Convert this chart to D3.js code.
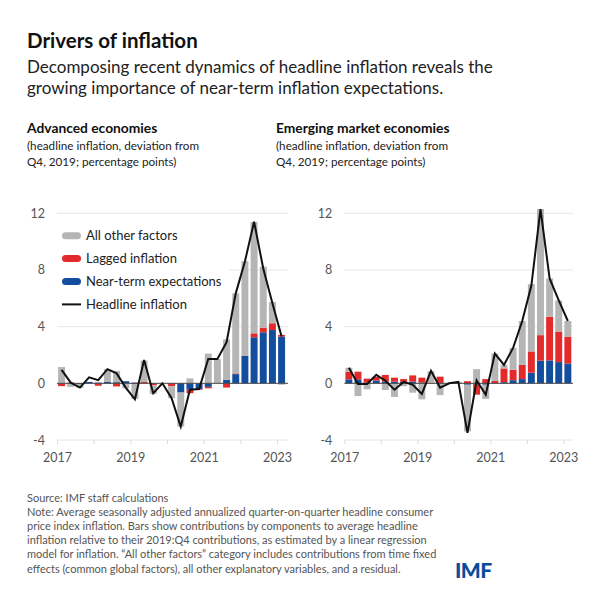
<!DOCTYPE html>
<html>
<head>
<meta charset="utf-8">
<script src="https://cdn.jsdelivr.net/npm/d3@7"></script>
<style>
  body { margin: 0; background: #fff; }
  text { font-family: Lato, "Open Sans", sans-serif; }
</style>
</head>
<body>
<div id="chart"></div>
<script>
// quarters 2017Q1 .. 2023Q1
var quarters = ['2017Q1','2017Q2','2017Q3','2017Q4','2018Q1','2018Q2','2018Q3','2018Q4',
  '2019Q1','2019Q2','2019Q3','2019Q4','2020Q1','2020Q2','2020Q3','2020Q4',
  '2021Q1','2021Q2','2021Q3','2021Q4','2022Q1','2022Q2','2022Q3','2022Q4','2023Q1'];

// Advanced economies
var aeExpect = [0, 0, -0.08, 0.1, 0.05, 0.1, 0.08, 0.15, 0.05, 0, 0, 0, 0, -0.65, -0.45, -0.4,
  -0.25, 0, 0.25, 0.65, 1.93, 3.25, 3.6, 3.76, 3.3];
var aeLagged = [-0.2, 0.05, 0, 0, -0.17, 0, -0.22, 0, -0.05, 0.1, -0.15, 0, -0.2, 0, -0.25, -0.05,
  -0.1, 0, -0.3, 0.05, 0, 0.28, 0.33, 0.48, 0.12];
var aeOther = [1.15, -0.25, -0.25, 0, 0, 0.9, 0.8, -0.35, -1.05, 1.5, -0.6, 0, -0.85, -2.4, 0.35, 0,
  2.1, 1.7, 2.85, 5.65, 6.7, 7.85, 4.3, 1.5, -0.1];
var aeHeadline = [0.95, 0.05, -0.3, 0.42, 0.22, 1.0, 0.7, -0.3, -1.13, 1.65, -0.7, 0, -1.05, -3.05, -0.45, -0.4,
  1.72, 1.72, 2.9, 6.35, 8.6, 11.4, 8.1, 5.65, 3.3];

// Emerging market economies
var emExpect = [0.28, 0.28, 0.05, 0.2, 0.12, 0.12, 0.1, 0.12, 0.05, 0, 0.03, 0, 0, -0.1, -0.05, -0.1,
  0.02, 0.08, 0.22, 0.3, 0.75, 1.6, 1.62, 1.5, 1.4];
var emLagged = [0.54, 0.54, 0.28, 0.25, 0.47, 0.28, 0.2, 0.44, 0.35, 0.05, 0.44, 0, 0.05, 0.15, -0.75, 0.3,
  0.15, 0.97, 0.73, 1.0, 1.5, 1.8, 3.08, 2.15, 1.9];
var emOther = [0.28, -0.9, -0.42, 0, -0.47, -0.96, -0.2, -0.66, -1.13, 0.8, -0.83, 0, 0.05, -3.3, 1.0, -1.0,
  1.93, 0.25, 1.55, 3.1, 4.75, 8.9, 2.7, 2.2, 1.1];
var emHeadline = [1.1, -0.05, -0.05, 0.6, 0.18, -0.45, 0.1, -0.1, -0.75, 0.88, -0.3, 0, 0.1, -3.5, 0.2, -0.8,
  2.1, 1.3, 2.5, 4.4, 6.9, 12.3, 7.4, 5.85, 4.4];

var yTicks = [-4, 0, 4, 8, 12];
var xLabels = [2017, 2019, 2021, 2023];
var keys = ['expect', 'lagged', 'other'];
var colors = { expect: '#134e9e', lagged: '#e32b2b', other: '#b5b5b5' };
var legendLabels = ['All other factors', 'Lagged inflation', 'Near-term expectations', 'Headline inflation'];

var width = 602, height = 602;
var svg = d3.select('#chart').append('svg')
  .attr('width', width)
  .attr('height', height);

// Titles
svg.append('text').attr('x', 27).attr('y', 48)
  .attr('font-size', 20.5).attr('font-weight', 700).attr('fill', '#111')
  .text('Drivers of inflation');
var sub = ['Decomposing recent dynamics of headline inflation reveals the',
  'growing importance of near-term inflation expectations.'];
sub.forEach(function (s, i) {
  svg.append('text').attr('x', 27).attr('y', 73 + i * 21)
    .attr('font-size', 17).attr('fill', '#222').text(s);
});

// y scale shared
var y = d3.scaleLinear().domain([-4, 12]).range([440, 213.3]);

function toRows(ex, lg, ot) {
  return quarters.map(function (q, i) {
    return { q: q, t: +q.slice(0, 4) + (+q.slice(5) - 1) * 0.25, expect: ex[i], lagged: lg[i], other: ot[i] };
  });
}

function panel(opt) {
  var g = svg.append('g');
  var x = d3.scaleLinear().domain([2017, 2023]).range([opt.x0, opt.x1]);
  var xEnd = opt.xEnd;

  // heading
  g.append('text').attr('x', opt.tx).attr('y', 133)
    .attr('font-size', 13.8).attr('font-weight', 700).attr('fill', '#111').text(opt.title);
  ['(headline inflation, deviation from', 'Q4, 2019; percentage points)'].forEach(function (s, i) {
    g.append('text').attr('x', opt.tx).attr('y', 150 + i * 16)
      .attr('font-size', 11.7).attr('fill', '#222').text(s);
  });

  // grid
  g.selectAll('.grid').data(yTicks.filter(function (d) { return d !== 0; }))
    .enter().append('line')
    .attr('x1', x(2017)).attr('x2', xEnd)
    .attr('y1', function (d) { return y(d); }).attr('y2', function (d) { return y(d); })
    .attr('stroke', '#e6e6e6').attr('stroke-width', 1);

  // y labels
  g.selectAll('.ylab').data(yTicks).enter().append('text')
    .attr('x', x(2017) - 12).attr('y', function (d) { return y(d) + 4.5; })
    .attr('text-anchor', 'end').attr('font-size', 12.5).attr('fill', '#555')
    .text(function (d) { return d; });

  // x axis at bottom
  var xAxis = d3.axisBottom(x).tickValues(d3.range(2017, 2024)).tickSize(4)
    .tickFormat(function (d) { return xLabels.indexOf(d) >= 0 ? d : ''; });
  var ax = g.append('g').attr('transform', 'translate(0,' + y(-4) + ')').call(xAxis);
  ax.select('.domain').remove();
  ax.selectAll('line').attr('stroke', '#ddd');
  ax.selectAll('text').attr('font-size', 12.5).attr('fill', '#555').attr('dy', '1.2em')
    .attr('font-family', 'Lato, sans-serif');

  // legend background (covers grid)
  if (opt.legend) {
    g.append('rect').attr('x', x(2017)).attr('y', 222).attr('width', 172).attr('height', 94)
      .attr('fill', '#fff');
  }

  // stacked bars
  var rows = toRows(opt.ex, opt.lg, opt.ot);
  var series = d3.stack().keys(keys).offset(d3.stackOffsetDiverging)(rows);
  var bw = (x(2018) - x(2017)) * 0.19;
  g.selectAll('.series').data(series).enter().append('g')
    .attr('fill', function (d) { return colors[d.key]; })
    .selectAll('rect').data(function (d) { return d; }).enter().append('rect')
    .attr('x', function (d) { return x(d.data.t + 0.125) - bw / 2; })
    .attr('width', bw)
    .attr('y', function (d) { return y(Math.max(d[0], d[1])); })
    .attr('height', function (d) { return Math.abs(y(d[0]) - y(d[1])); });

  // zero line
  g.append('line').attr('x1', x(2017)).attr('x2', xEnd)
    .attr('y1', y(0)).attr('y2', y(0)).attr('stroke', '#444').attr('stroke-width', 1);

  // headline
  var line = d3.line()
    .x(function (d, i) { return x(rows[i].t + 0.125); })
    .y(function (d) { return y(d); });
  g.append('path').datum(opt.hl).attr('d', line)
    .attr('fill', 'none').attr('stroke', '#111').attr('stroke-width', 2)
    .attr('stroke-linejoin', 'miter');

  if (opt.legend) {
    var lgItems = [
      { label: legendLabels[0], c: colors.other },
      { label: legendLabels[1], c: colors.lagged },
      { label: legendLabels[2], c: colors.expect },
      { label: legendLabels[3], c: null }
    ];
    var lgG = g.append('g');
    lgItems.forEach(function (d, i) {
      var cy = 235.7 + i * 22.9;
      if (d.c) {
        lgG.append('rect').attr('x', 62).attr('y', cy - 3.5).attr('width', 19).attr('height', 7)
          .attr('rx', 3.5).attr('fill', d.c);
      } else {
        lgG.append('line').attr('x1', 62).attr('x2', 81).attr('y1', cy).attr('y2', cy)
          .attr('stroke', '#111').attr('stroke-width', 2);
      }
      lgG.append('text').attr('x', 86).attr('y', cy + 4.5).attr('font-size', 13)
        .attr('fill', '#222').text(d.label);
    });
  }
}

panel({ x0: 57, x1: 277, xEnd: 288, tx: 27, title: 'Advanced economies',
  ex: aeExpect, lg: aeLagged, ot: aeOther, hl: aeHeadline, legend: true });
panel({ x0: 344.3, x1: 563.3, xEnd: 573, tx: 276, title: 'Emerging market economies',
  ex: emExpect, lg: emLagged, ot: emOther, hl: emHeadline, legend: false });

// footer
var foot = ['Source: IMF staff calculations',
  'Note: Average seasonally adjusted annualized quarter-on-quarter headline consumer',
  'price index inflation. Bars show contributions by components to average headline',
  'inflation relative to their 2019:Q4 contributions, as estimated by a linear regression',
  'model for inflation. \u201cAll other factors\u201d category includes contributions from time fixed',
  'effects (common global factors), all other explanatory variables, and a residual.'];
foot.forEach(function (s, i) {
  svg.append('text').attr('x', 27).attr('y', 502 + i * 14.1)
    .attr('font-size', 11).attr('fill', '#555').text(s);
});

svg.append('text').attr('x', 455).attr('y', 578)
  .attr('font-size', 21).attr('font-weight', 900).attr('fill', '#0a4c9c')
  .attr('font-family', '"Roboto Condensed", Roboto, sans-serif')
  .attr('letter-spacing', -0.5)
  .text('IMF');
</script>
</body>
</html>
